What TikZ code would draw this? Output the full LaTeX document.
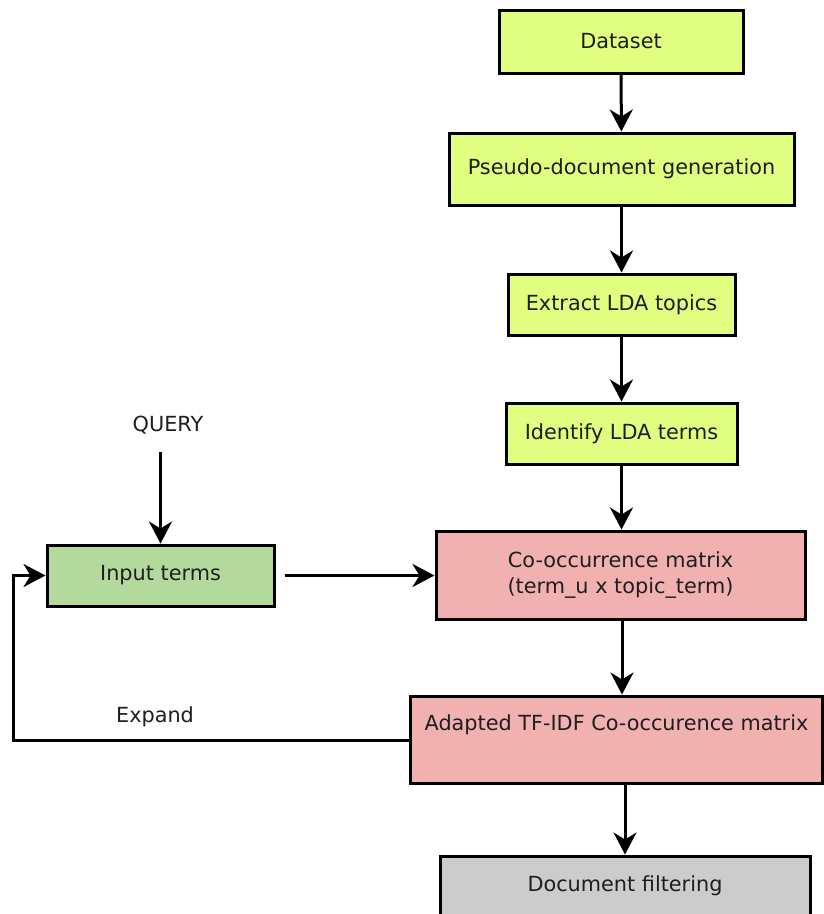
\documentclass[tikz,border=0pt]{standalone}
\usepackage{fontspec}
\setmainfont{DejaVu Sans}
\usetikzlibrary{arrows.meta}
\definecolor{ylw}{RGB}{224,254,128}
\definecolor{pnk}{RGB}{242,177,177}
\definecolor{grn}{RGB}{179,217,157}
\definecolor{gry}{RGB}{204,204,204}
\definecolor{txt}{RGB}{30,30,30}
\tikzset{
  box/.style={draw=black, line width=3pt, inner sep=0pt, text=txt, font=\fontsize{20.8}{26}\selectfont, align=center},
  lbl/.style={text=txt, font=\fontsize{20.8}{26}\selectfont, inner sep=0pt},
  conn/.style={line width=3pt, -{Stealth[length=22pt, width=23pt, inset=7pt]}}
}
\begin{document}
\begin{tikzpicture}[x=1pt, y=-1pt]
\useasboundingbox (0,0) rectangle (824,914);
\node[box, fill=ylw, minimum width=244pt, minimum height=63pt] (data) at (621,41.5) {Dataset};
\node[box, fill=ylw, minimum width=345pt, minimum height=72pt] (pseudo) at (621.5,169) {Pseudo-document generation};
\node[box, fill=ylw, minimum width=227pt, minimum height=61pt] (extract) at (621.5,304.5) {Extract LDA topics};
\node[box, fill=ylw, minimum width=231pt, minimum height=61pt] (ident) at (621.5,433.5) {Identify LDA terms};
\node[box, fill=pnk, minimum width=369pt, minimum height=88pt] (cooc) at (620.5,575) {Co-occurrence matrix\\(term\_u x topic\_term)};
\node[box, fill=pnk, minimum width=412pt, minimum height=87pt, text height=10pt, text depth=28pt] (adapt) at (616.5,739.5) {Adapted TF-IDF Co-occurence matrix};
\node[box, fill=gry, minimum width=370pt, minimum height=60pt] (doc) at (625,886) {Document filtering};
\node[box, fill=grn, minimum width=227pt, minimum height=61pt] (inp) at (160.5,575.5) {Input terms};
\node[lbl] (query) at (168,425) {QUERY};
\node[lbl] (expand) at (155,717) {Expand};
\coordinate (qstart) at (160.5,452);
\coordinate (loopcorner) at (13,740);
\draw[conn] (data) -- (pseudo);
\draw[conn] (pseudo) -- (extract);
\draw[conn] (extract) -- (ident);
\draw[conn] (ident) -- (ident.south |- cooc.north);
\draw[conn] ([xshift=1.5pt]cooc.south) -- ([xshift=1.5pt]cooc.south |- adapt.north);
\draw[conn] (doc.north |- adapt.south) -- (doc.north);
\draw[conn] (qstart) -- (inp.north);
\draw[conn] ([xshift=9pt]inp.east) -- (inp.east -| cooc.west);
\draw[conn] (adapt.west |- loopcorner) -- (loopcorner) |- (inp.west);
\end{tikzpicture}
\end{document}
